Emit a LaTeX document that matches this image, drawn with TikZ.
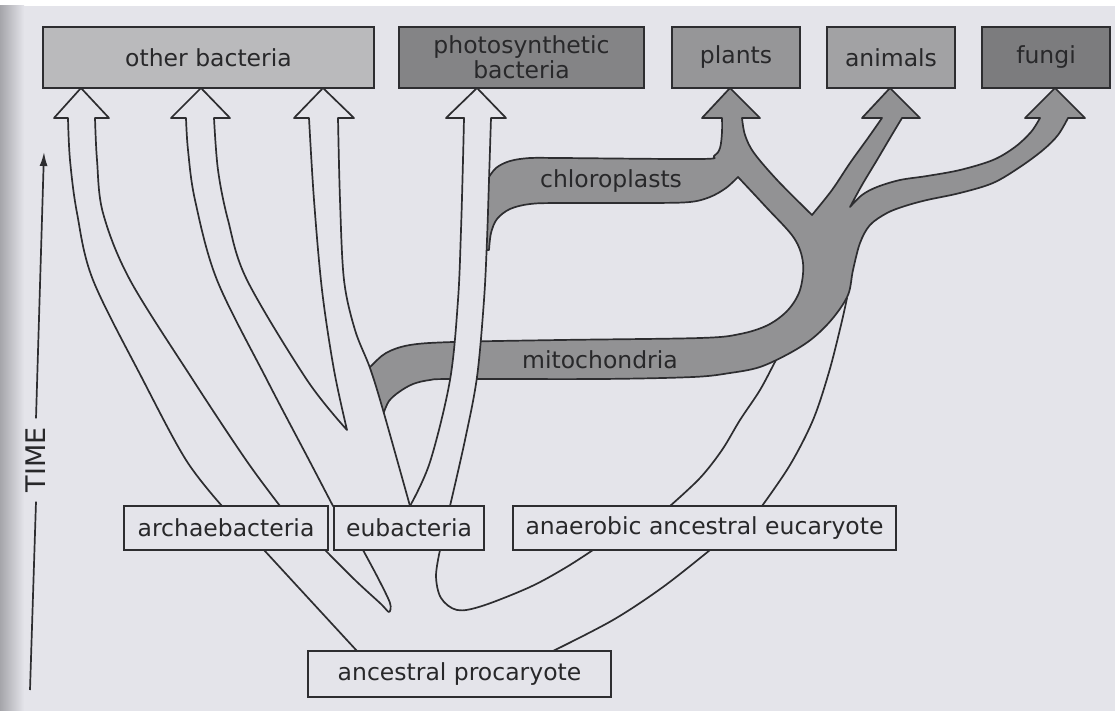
\documentclass[tikz,border=0pt]{standalone}
\usepackage{fontspec}
\setmainfont{DejaVu Sans}
\usetikzlibrary{arrows.meta}
\definecolor{bgc}{RGB}{228,228,234}
\definecolor{shadec}{RGB}{165,165,170}
\definecolor{inkc}{RGB}{45,45,48}
\definecolor{txtc}{RGB}{40,40,42}
\definecolor{gOB}{RGB}{186,186,188}
\definecolor{gPB}{RGB}{132,132,134}
\definecolor{gPL}{RGB}{150,150,152}
\definecolor{gAN}{RGB}{162,162,164}
\definecolor{gFU}{RGB}{124,124,126}
\definecolor{gband}{RGB}{146,146,148}
\newcommand{\figlbl}{\fontsize{23.5}{25}\selectfont}
\newcommand{\timefont}{\fontsize{27}{27}\selectfont}
\pgfdeclarelayer{back}
\pgfdeclarelayer{mid}
\pgfsetlayers{back,mid,main}
\begin{document}
\begin{tikzpicture}[x=1pt,y=-1pt,
  ink/.style={draw=inkc,line width=1.7pt,line join=round},
  tube/.style={ink,fill=bgc},
  band/.style={ink,fill=gband},
  sm/.style={smooth,tension=0.55},
  topbox/.style={draw=inkc,line width=1.7pt,inner sep=0pt,outer sep=0pt,minimum height=61pt,text=txtc,font=\figlbl},
  lowbox/.style={draw=inkc,line width=1.7pt,fill=bgc,inner sep=0pt,outer sep=0pt,minimum height=44pt,text=txtc,font=\figlbl},
  lbl/.style={text=txtc,font=\figlbl,inner sep=0pt}]
\useasboundingbox (0,0) rectangle (1115,711);
% ---------- boxes ----------
\node[topbox,fill=gOB,minimum width=331pt] (ob) at (208.5,57.5) {other bacteria};
\node[topbox,fill=gPB,minimum width=245pt,align=center] (pb) at (521.5,57.5) {photosynthetic\\bacteria};
\node[topbox,fill=gPL,minimum width=128pt] (pl) at (736,57.5) {plants};
\node[topbox,fill=gAN,minimum width=128pt] (an) at (891,57.5) {animals};
\node[topbox,fill=gFU,minimum width=128pt] (fu) at (1046,57.5) {fungi};
\node[lowbox,minimum width=204pt] (ar) at (226,528) {archaebacteria};
\node[lowbox,minimum width=150pt] (eu) at (409,528) {eubacteria};
\node[lowbox,minimum width=383pt] (aa) at (704.5,528) {anaerobic ancestral eucaryote};
\node[lowbox,minimum width=303pt,minimum height=46pt] (ap) at (459.5,674) {ancestral procaryote};
\node[lbl] (mito) at (600,360) {mitochondria};
\node[lbl] (chlo) at (611,181) {chloroplasts};
% ---------- time axis ----------
\node[text=txtc,font=\timefont,rotate=90,inner xsep=9pt,inner ysep=0pt] (time) at (36,460) {TIME};
\coordinate (ttop) at (44,152);
\coordinate (tbot) at (30,690);
\draw[ink,-{Latex[length=14pt,width=8pt]}] (time.east) -- (ttop);
\draw[ink] (time.west) -- (tbot);
% ---------- background ----------
\begin{pgfonlayer}{back}
\fill[bgc] (0,0) rectangle (1115,711);
\fill[white] (0,0) rectangle (1115,6);
\shade[left color=shadec,right color=bgc] (0,6) rectangle (24,711);
\end{pgfonlayer}
% ---------- tubes ----------
\begin{pgfonlayer}{mid}
% anaerobic eucaryote tube (upper part)
\draw[ink] plot[sm] coordinates {(670,506) (700,478) (722,450) (740,420) (760,390) (776,360) (782,350)};
\draw[ink] plot[sm] coordinates {(762,506) (790,465) (813,420) (829,372) (841,325) (847,298)};
% gray organelle / eucaryote band
\filldraw[band] plot[sm] coordinates {(358,378) (370,367) (386,353) (410,345) (453,342) (560,340) (700,338) (740,334) (768,325) (788,310) (800,290) (803,263) (794,238) (766,207) (738,177)}
 -- plot[sm] coordinates {(738,177) (726,188) (710,197) (690,202) (650,203) (560,203) (530,204) (510,209) (497,219) (491,233) (489,250)}
 -- (478,250) -- (478,182) -- (487,180)
 -- plot[sm] coordinates {(487,180) (496,168) (510,161) (530,158) (560,158) (700,159) (714,156) (720,148) (722,132) (722,118)}
 -- (702,118) -- (730,0 |- pl.south) -- (760,118) -- (742,118)
 -- plot[sm] coordinates {(742,118) (745,135) (754,153) (778,181) (812,215)}
 -- plot[sm] coordinates {(812,215) (832,190) (850,163) (868,138) (882,118)}
 -- (862,118) -- (890,0 |- an.south) -- (920,118) -- (902,118)
 -- plot[sm] coordinates {(902,118) (890,138) (877,160) (862,185) (850,207)}
 -- plot[sm] coordinates {(850,207) (862,195) (877,187) (900,180) (927,176) (960,170) (993,160) (1015,147) (1031,132) (1040,118)}
 -- (1025,118) -- (1055,0 |- fu.south) -- (1085,118) -- (1068,118)
 -- plot[sm] coordinates {(1068,118) (1058,135) (1043,150) (1020,167) (993,183) (960,193) (927,200) (905,206) (887,213) (870,225) (860,243) (853,270) (848,295) (833,318) (813,338) (790,353) (760,367) (730,373) (693,377) (600,379) (453,379) (430,380) (413,384) (399,392) (389,401) (384,412)}
 -- (372,412) -- cycle;
% archaebacteria -> other bacteria
\filldraw[tube] plot[sm] coordinates {(222,506) (186,460) (143,380) (93,280) (77,213) (70,160) (68,118)}
 -- (54,118) -- (81,0 |- ob.south) -- (109,118) -- (95,118)
 -- plot[sm] coordinates {(95,118) (97,160) (103,213) (130,280) (193,380) (246,460) (280,506)} -- cycle;
% eubacteria -> other bacteria (two arrows)
\filldraw[tube] plot[sm] coordinates {(333,506) (309,460) (267,380) (217,280) (195,200) (188,150) (186,118)}
 -- (171,118) -- (201,0 |- ob.south) -- (230,118) -- (214,118)
 -- plot[sm] coordinates {(214,118) (218,170) (228,220) (247,280) (307,380) (347,430)}
 -- plot[sm] coordinates {(347,430) (334,370) (322,290) (314,200) (309,118)}
 -- (294,118) -- (323,0 |- ob.south) -- (354,118) -- (338,118)
 -- plot[sm] coordinates {(338,118) (340,200) (344,280) (355,330) (370,368) (383,410) (410,506)} -- cycle;
% eubacteria -> photosynthetic bacteria
\filldraw[tube] plot[sm] coordinates {(410,506) (430,462) (450,380) (458,300) (461,230) (463,160) (464,118)}
 -- (446,118) -- (477,0 |- pb.south) -- (506,118) -- (491,118)
 -- plot[sm] coordinates {(491,118) (489,180) (487,240) (484,300) (477,377) (465,440) (450,506)} -- cycle;
% lower tree from ancestral procaryote
\draw[ink] plot[sm] coordinates {(264,550) (310,600) (357,651)};
\draw[ink] plot[smooth,tension=0.5] coordinates {(325,550) (356,581) (381,604) (389,612) (390,603) (378,578) (363,550)};
\draw[ink] plot[sm] coordinates {(440,550) (436,576) (441,598) (457,610) (482,606) (530,587) (565,568) (593,550)};
\draw[ink] plot[sm] coordinates {(710,550) (663,587) (613,620) (553,651)};
\end{pgfonlayer}
\end{tikzpicture}
\end{document}
